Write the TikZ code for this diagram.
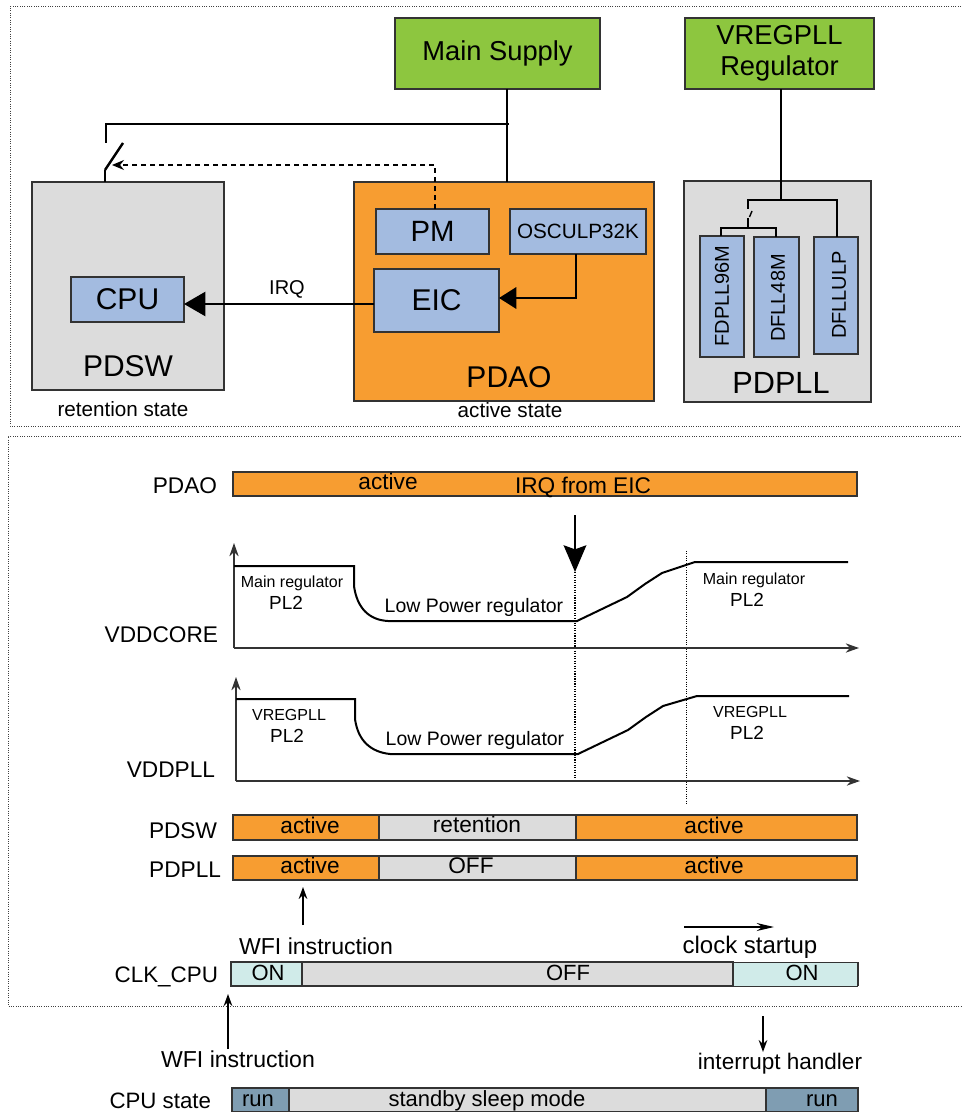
\documentclass[tikz,border=0pt]{standalone}
\usepackage{fontspec}
\setmainfont{Liberation Sans}
\usetikzlibrary{arrows.meta}
\newdimen\px \px=0.75pt
\newcommand{\fsz}[1]{\fontsize{#1pt}{1.15\dimexpr#1pt\relax}\selectfont}
\definecolor{grn}{HTML}{8DC63F}
\definecolor{org}{HTML}{F79D31}
\definecolor{gry}{HTML}{DCDCDC}
\definecolor{blu}{HTML}{A3BBE0}
\definecolor{cyn}{HTML}{D0EBE9}
\definecolor{runc}{HTML}{7F9DB2}
\definecolor{edge}{HTML}{333333}
\tikzset{
  sz/.style 2 args={minimum width=#1\px, minimum height=#2\px},
  box/.style={draw=edge, line width=1.2\px, inner sep=0pt, outer sep=0pt},
  gbox/.style={box, fill=grn},
  obox/.style={box, fill=org},
  ybox/.style={box, fill=gry},
  bbox/.style={box, fill=blu},
  seg/.style={draw=edge, line width=1.5\px, inner sep=0pt, outer sep=0pt},
  lbl/.style={inner sep=0pt, outer sep=0pt},
  bt/.style={lbl, anchor=base, font=\fsz{17}},
  wire/.style={line width=2.4\px, black},
  thinwire/.style={line width=1.4\px, black},
  frame/.style={densely dotted, line width=1\px, black!75},
  axis/.style={line width=1.4\px, black!80, -{Stealth[length=10pt,width=7pt]}},
  curve/.style={line width=2\px, black},
  smallarr/.style={line width=1.2\px, black, -{Stealth[length=9pt,width=6.5pt]}},
  vline/.style={densely dotted, line width=1.2\px, black}
}
\begin{document}
\begin{tikzpicture}[x=0.75pt,y=-0.75pt]
\useasboundingbox (0,0) rectangle (961,1112);
% frames
\draw[frame] (961,7) -- (10,7) -- (10,426) -- (961,426);
\draw[frame] (961,436) -- (8,436) -- (8,1006) -- (961,1006);

% ===== top part =====
\node[gbox, sz={205}{71}, font=\fsz{20.5}] (mainsup) at (497.5,53.5) {Main Supply};
\node[gbox, sz={189}{71}, font=\fsz{20.5}, align=center] (vreg) at (779.5,53.5) {\fontsize{20.5pt}{19.5pt}\selectfont VREGPLL\\Regulator};

\node[ybox, sz={192}{208}] (pdsw) at (128,286) {};
\node[bbox, sz={113}{45}, font=\fsz{22.5}] (cpu) at (127.5,299.5) {CPU};
\node[lbl, anchor=base, font=\fsz{22.5}] (pdswl) at (128,376) {PDSW};
\node[lbl, anchor=base, font=\fsz{15.5}] (retl) at (123,416) {retention state};

\node[obox, sz={300}{219}] (pdao) at (504,291.5) {};
\node[bbox, sz={113}{45}, font=\fsz{22}] (pm) at (432.5,231.5) {PM};
\node[bbox, sz={136}{45}, font=\fsz{15.5}] (osc) at (578,231.5) {OSCULP32K};
\node[bbox, sz={125}{63}, font=\fsz{22.5}] (eic) at (436.5,300.5) {EIC};
\node[lbl, anchor=base, font=\fsz{22.5}] (pdaol) at (509,387) {PDAO};
\node[lbl, anchor=base, font=\fsz{15.5}] (actl) at (510,417) {active state};

\node[ybox, sz={187}{221}] (pdpll) at (777.5,291.5) {};
\node[bbox, sz={44}{121}] (fdpll) at (722,296.5) {};
\node[bbox, sz={45}{120}] (dfll48) at (776.5,297) {};
\node[bbox, sz={44}{117}] (dfllulp) at (836,295.5) {};
\node[lbl, rotate=90, font=\fsz{15}] (fdpllt) at (722,296) {FDPLL96M};
\node[lbl, rotate=90, font=\fsz{15}] (dfll48t) at (778,298) {DFLL48M};
\node[lbl, rotate=90, font=\fsz{15}] (dfllulpt) at (839,295) {DFLLULP};
\node[lbl, anchor=base, font=\fsz{23}] (pdplll) at (781,393) {PDPLL};

% supply wiring
\coordinate (j) at (507,124);
\draw[wire] (mainsup.south -| j) -- (pdao.north -| j);
\draw[wire] (509,124) -- (106,124) -- (106,143);
\coordinate (swb) at (105,170);
\draw[wire] (123,143) -- (swb);
\draw[wire] (swb) -- (pdsw.north -| swb);
\coordinate (pmd) at (435,165);
\draw[line width=1.2\px, dashed, dash pattern=on 5\px off 4\px, -{Stealth[length=9pt,width=7.5pt]}]
  (pm.north -| pmd) -- (pmd) -- (112,165);

% IRQ and OSC
\draw[wire, -{Triangle[length=16pt,width=18pt]}] (eic.west |- 0,304) -- (cpu.east |- 0,304);
\node[lbl, anchor=base, font=\fsz{15}] (irql) at (287,295) {IRQ};
\coordinate (oc) at (576,298);
\draw[wire, -{Triangle[length=13pt,width=16pt]}] (osc.south -| oc) -- (oc) -- (eic.east |- oc);

% PDPLL wiring
\coordinate (pj) at (781,200);
\draw[wire] (vreg.south -| pj) -- (pj);
\draw[thinwire] (748,209) -- (748,200) -- (837,200) -- (dfllulp.north -| 837,0);
\draw[thinwire] (752,211) -- (749.5,217);
\draw[thinwire] (748,218) -- (748,228);
\draw[thinwire] (fdpll.north -| 721,0) -- (721,228) -- (776,228) -- (dfll48.north -| 776,0);

% ===== timing part =====
\node[lbl, anchor=base east, font=\fsz{17}] (pdaoT) at (217,493) {PDAO};
\node[seg, fill=org, sz={624}{24}] (pdaobar) at (545,484) {};
\node[bt] (pdaoact) at (388,489) {active};
\node[bt] (irqeic) at (583,493) {IRQ from EIC};

\coordinate (irqtop) at (575,515);
\coordinate (irqtip) at (575,572);
\draw[line width=2.2\px, -{Stealth[length=20pt,width=17pt,inset=3pt]}] (irqtop) -- (irqtip);
\draw[vline] (irqtip) -- (575,780);
\draw[vline, line width=1\px] (686,551) -- (686,805);

% VDDCORE
\coordinate (o1) at (234,648);
\draw[axis] (o1) -- (234,543);
\draw[axis] (o1) -- (859,648);
\draw[curve] (234,566) -- (354,566) -- (354,586) .. controls (357,608) and (369,620) .. (388,621) -- (577,621) -- (627,597) -- (645,584) -- (662,573) -- (695,562) -- (848,562);
\node[lbl, anchor=base east, font=\fsz{17}] (vddcore) at (218,642) {VDDCORE};
\node[lbl, anchor=base, font=\fsz{12}] (mr1) at (292,587) {Main regulator};
\node[lbl, anchor=base, font=\fsz{14.2}] (pl2a) at (286,609) {PL2};
\node[lbl, anchor=base, font=\fsz{14.6}] (lp1) at (474,612) {Low Power regulator};
\node[lbl, anchor=base, font=\fsz{12}] (mr2) at (754,584) {Main regulator};
\node[lbl, anchor=base, font=\fsz{14.2}] (pl2b) at (747,606) {PL2};

% VDDPLL
\coordinate (o2) at (236,781);
\draw[axis] (o2) -- (236,677);
\draw[axis] (o2) -- (860,781);
\draw[curve] (236,699) -- (355,699) -- (355,719) .. controls (358,741) and (371,752) .. (390,754) -- (578,754) -- (628,730) -- (646,717) -- (663,706) -- (697,696) -- (849,696);
\node[lbl, anchor=base east, font=\fsz{17}] (vddpll) at (215,777) {VDDPLL};
\node[lbl, anchor=base, font=\fsz{12}] (vr1) at (289,720) {VREGPLL};
\node[lbl, anchor=base, font=\fsz{14.2}] (pl2c) at (287,742) {PL2};
\node[lbl, anchor=base, font=\fsz{14.6}] (lp2) at (475,745) {Low Power regulator};
\node[lbl, anchor=base, font=\fsz{12}] (vr2) at (750,717) {VREGPLL};
\node[lbl, anchor=base, font=\fsz{14.2}] (pl2d) at (747,739) {PL2};

% PDSW bar
\node[lbl, anchor=base east, font=\fsz{17}] (pdswT) at (217,838) {PDSW};
\node[seg, fill=org, sz={146}{25}] (sw1) at (306,827.5) {};
\node[seg, fill=gry, sz={197}{25}] (sw2) at (477.5,827.5) {};
\node[seg, fill=org, sz={281}{25}] (sw3) at (716.5,827.5) {};
\node[bt] (sw1t) at (310,833) {active};
\node[bt] (sw2t) at (477,832) {retention};
\node[bt] (sw3t) at (714,833) {active};

% PDPLL bar
\node[lbl, anchor=base east, font=\fsz{17}] (pdpllT) at (221,877) {PDPLL};
\node[seg, fill=org, sz={146}{24}] (pl1) at (306,868) {};
\node[seg, fill=gry, sz={197}{24}] (pl2) at (477.5,868) {};
\node[seg, fill=org, sz={281}{24}] (pl3) at (716.5,868) {};
\node[bt] (pl1t) at (310,873) {active};
\node[bt] (pl2t) at (471,873) {OFF};
\node[bt] (pl3t) at (714,873) {active};

% WFI 1
\node[lbl, anchor=base, font=\fsz{17.3}] (wfi1) at (316,954) {WFI instruction};
\coordinate (w1a) at (303,925);
\draw[smallarr, shorten >=7\px] (w1a) -- (pl1.south -| w1a);

% CLK_CPU
\node[lbl, anchor=base east, font=\fsz{16.8}] (clkT) at (218,982) {CLK\_CPU};
\node[seg, fill=cyn, sz={71}{24}] (ck1) at (266.5,974) {};
\node[seg, fill=gry, sz={431}{24}] (ck2) at (517.5,974) {};
\node[seg, fill=cyn, sz={124}{24}, line width=1\px] (ck3) at (795,974) {};
\draw[line width=1.5\px, edge] (858,962) -- (858,986);
\node[bt, font=\fsz{16.5}] (ck1t) at (268,980) {ON};
\node[bt, font=\fsz{16.5}] (ck2t) at (568,980) {OFF};
\node[bt, font=\fsz{16.5}] (ck3t) at (802,980) {ON};

\coordinate (cs1) at (684,927);
\coordinate (cs2) at (774,927);
\draw[line width=1.2\px, -{Stealth[length=13pt,width=6pt]}] (cs1) -- (cs2);
\node[lbl, anchor=base, font=\fsz{18}] (csl) at (750,953) {clock startup};

% outside
\node[lbl, anchor=base, font=\fsz{17.3}] (wfi2) at (238,1067) {WFI instruction};
\coordinate (w2a) at (228,1049);
\draw[smallarr, shorten >=8\px] (w2a) -- (ck1.south west -| w2a);
\node[lbl, anchor=base, font=\fsz{16.9}] (ih) at (780,1069) {interrupt handler};
\coordinate (iha) at (763,1016);
\coordinate (ihb) at (763,1052);
\draw[smallarr] (iha) -- (ihb);

% CPU state
\node[lbl, anchor=base east, font=\fsz{16.7}] (cpuT) at (211,1108) {CPU state};
\node[seg, fill=runc, sz={57}{24}] (r1) at (260.5,1100) {};
\node[seg, fill=gry, sz={477}{24}] (r2) at (527.5,1100) {};
\node[seg, fill=runc, sz={92}{24}] (r3) at (812,1100) {};
\node[bt, font=\fsz{16.5}] (r1t) at (258,1106) {run};
\node[bt, font=\fsz{16.5}] (r2t) at (487,1106) {standby sleep mode};
\node[bt, font=\fsz{16.5}] (r3t) at (822,1106) {run};
\end{tikzpicture}
\end{document}
